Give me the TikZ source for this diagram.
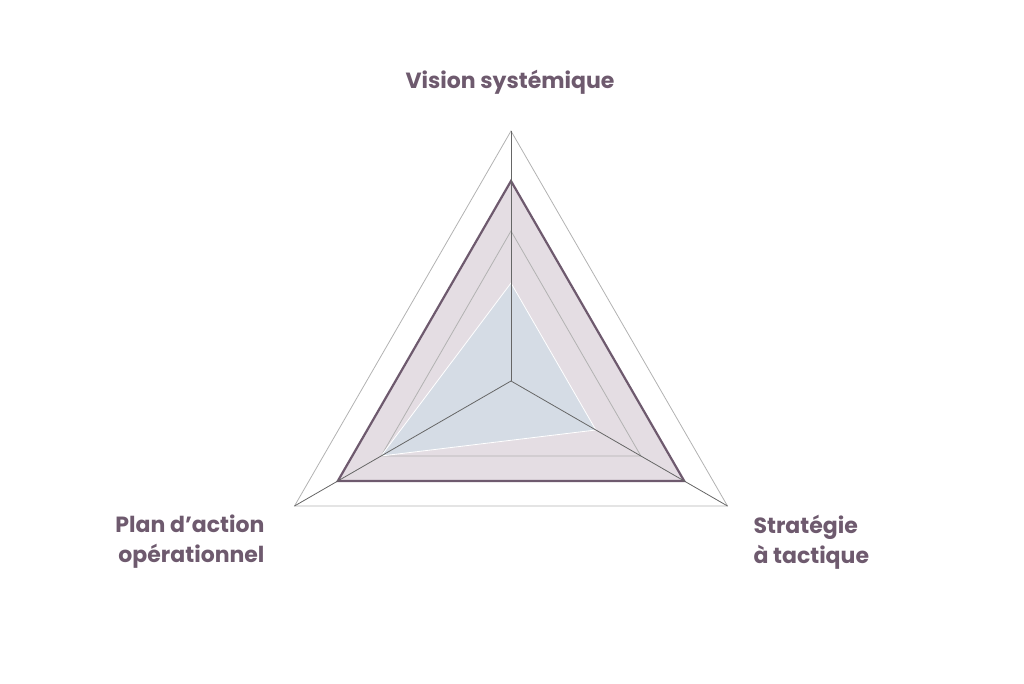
\documentclass[tikz,border=0pt]{standalone}
\usepackage{fontspec}
\setmainfont{Poppins}
\usetikzlibrary{calc}
\definecolor{plum}{HTML}{6E5A6E}
\definecolor{plumfill}{HTML}{E4DDE3}
\definecolor{bluefill}{HTML}{D5DCE5}
\tikzset{
	gridline/.style={draw=gray!60, line width=0.8pt},
	axisline/.style={draw=black!60, line width=0.8pt},
	axislabel/.style={text=plum, font=\fontsize{22}{30}\selectfont\bfseries, align=center},
	outerseries/.style={draw=plum, fill=plumfill, line width=2.2pt, line join=miter},
	innerseries/.style={draw=white, fill=bluefill, line width=0.8pt}
}
\begin{document}
\begin{tikzpicture}[x=1pt, y=1pt]
\useasboundingbox (0,0) rectangle (1024,683);
\coordinate (C) at (511,302);
% grid
\draw[gridline] ($(C)+(90:250)$) -- ($(C)+(-30:250)$) -- ($(C)+(210:250)$) -- cycle;
% series
\draw[outerseries] ($(C)+(90:200)$) coordinate (sv) -- ($(C)+(-30:200)$) coordinate (st) -- ($(C)+(210:200)$) coordinate (sp) -- cycle;
\draw[gridline] ($(C)+(90:150)$) -- ($(C)+(-30:150)$) -- ($(C)+(210:150)$) -- cycle;
\draw[innerseries] ($(C)+(90:98)$) -- ($(C)+(-30:98)$) -- ($(C)+(210:150)$) -- cycle;
% axes
\foreach \a/\n in {90/vis, -30/str, 210/pla}
	\draw[axisline] (C) -- ($(C)+(\a:250)$) coordinate (\n);
\node[axislabel] (visL) at (510,601) {Vision systémique};
\node[axislabel, anchor=west, align=left] (strL) at (750,141) {Stratégie\\à tactique};
\node[axislabel, anchor=east, align=right] (plaL) at (268,141) {Plan d'action\\opérationnel};
\end{tikzpicture}
\end{document}
